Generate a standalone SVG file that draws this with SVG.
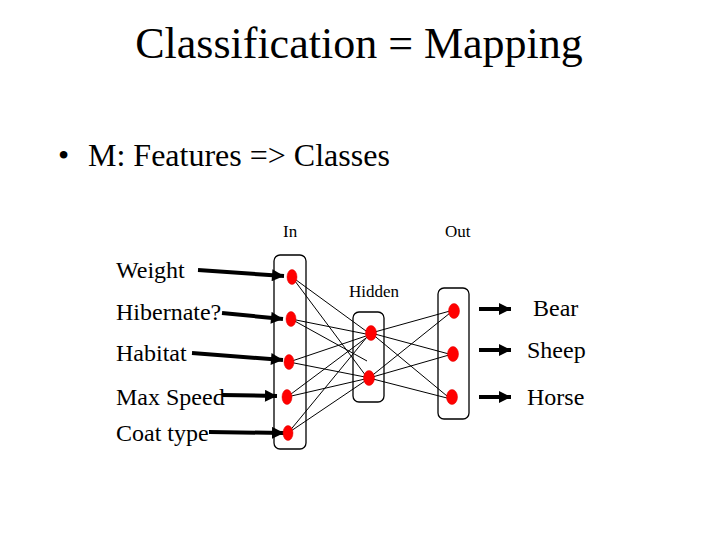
<svg xmlns="http://www.w3.org/2000/svg" width="720" height="540" viewBox="0 0 720 540">
<defs>
<style>
text{font-family:"Liberation Serif","Times New Roman",serif;fill:#000}
.title{font-size:44px}
.bullet{font-size:32px}
.lbl{font-size:24px}
.small{font-size:17px}
.box{fill:none;stroke:#000;stroke-width:1.3}
.node{fill:#ff0000;stroke:#e00000;stroke-width:0.5}
.arrow{stroke:#000;stroke-width:4;fill:none;marker-end:url(#ah)}
.conn line{stroke:#000;stroke-width:1}
</style>
<marker id="ah" viewBox="0 0 10 10" refX="10" refY="5" markerWidth="3.2" markerHeight="3" orient="auto" markerUnits="strokeWidth">
<path d="M0,0 L10,5 L0,10 Z" fill="#000"/>
</marker>
</defs>
<rect width="720" height="540" fill="#fff"/>
<text class="title" x="359" y="58" text-anchor="middle">Classification = Mapping</text>
<text class="bullet" x="58" y="166">•</text>
<text class="bullet" x="88" y="166">M: Features =&gt; Classes</text>
<text class="small" x="283" y="237">In</text>
<text class="small" x="445" y="237">Out</text>
<text class="small" x="349" y="297">Hidden</text>

<g id="connectors">
<g class="conn">
<line x1="292" y1="277" x2="366" y2="331"/>
<line x1="292" y1="277" x2="366" y2="376"/>
<line x1="291" y1="319" x2="366" y2="334"/>
<line x1="291" y1="319" x2="367" y2="361"/>
<line x1="289" y1="362" x2="366" y2="336"/>
<line x1="289" y1="362" x2="365" y2="377"/>
<line x1="287" y1="397" x2="366" y2="338"/>
<line x1="287" y1="397" x2="365" y2="379"/>
<line x1="288" y1="433" x2="367" y2="337"/>
<line x1="288" y1="433" x2="365" y2="381"/>
<line x1="371" y1="333" x2="450" y2="311"/>
<line x1="371" y1="333" x2="449" y2="354"/>
<line x1="371" y1="333" x2="447" y2="396"/>
<line x1="369" y1="378" x2="450" y2="313"/>
<line x1="369" y1="378" x2="449" y2="355"/>
<line x1="369" y1="378" x2="447" y2="398"/>
</g>
<line class="arrow" x1="198" y1="270" x2="284" y2="276"/>
<line class="arrow" x1="222" y1="313" x2="283" y2="319"/>
<line class="arrow" x1="192" y1="353" x2="283" y2="360"/>
<line class="arrow" x1="222" y1="395" x2="277" y2="396"/>
<line class="arrow" x1="209" y1="432" x2="284" y2="433"/>
<line class="arrow" x1="479" y1="309" x2="511" y2="309"/>
<line class="arrow" x1="479" y1="350" x2="511" y2="350"/>
<line class="arrow" x1="479" y1="397" x2="511" y2="397"/>
</g>

<g id="labels-in">
<text class="lbl" x="116" y="278">Weight</text>
<text class="lbl" x="116" y="320">Hibernate?</text>
<text class="lbl" x="116" y="361">Habitat</text>
<text class="lbl" x="116" y="405">Max Speed</text>
<text class="lbl" x="116" y="441">Coat type</text>
</g>
<g id="labels-out">
<text class="lbl" x="533" y="316">Bear</text>
<text class="lbl" x="527" y="358">Sheep</text>
<text class="lbl" x="527" y="405">Horse</text>
</g>

<g id="input-layer">
<rect class="box" x="274" y="255" width="32" height="194" rx="6"/>
<ellipse id="in1" class="node" cx="292" cy="277" rx="5" ry="7.5"/>
<ellipse id="in2" class="node" cx="291" cy="319" rx="5" ry="7.5"/>
<ellipse id="in3" class="node" cx="289" cy="362" rx="5" ry="7.5"/>
<ellipse id="in4" class="node" cx="287" cy="397" rx="5" ry="7.5"/>
<ellipse id="in5" class="node" cx="288" cy="433" rx="5" ry="7.5"/>
</g>
<g id="hidden-layer">
<rect class="box" x="353" y="312" width="31" height="90" rx="6"/>
<ellipse id="h1" class="node" cx="371" cy="333" rx="5.5" ry="7.5"/>
<ellipse id="h2" class="node" cx="369" cy="378" rx="5.5" ry="7.5"/>
</g>
<g id="output-layer">
<rect class="box" x="438" y="288" width="31" height="131" rx="6"/>
<ellipse id="o1" class="node" cx="454" cy="311" rx="5.5" ry="7.5"/>
<ellipse id="o2" class="node" cx="453" cy="354" rx="5.5" ry="7.5"/>
<ellipse id="o3" class="node" cx="452" cy="397" rx="5.5" ry="7.5"/>
</g>
</svg>
